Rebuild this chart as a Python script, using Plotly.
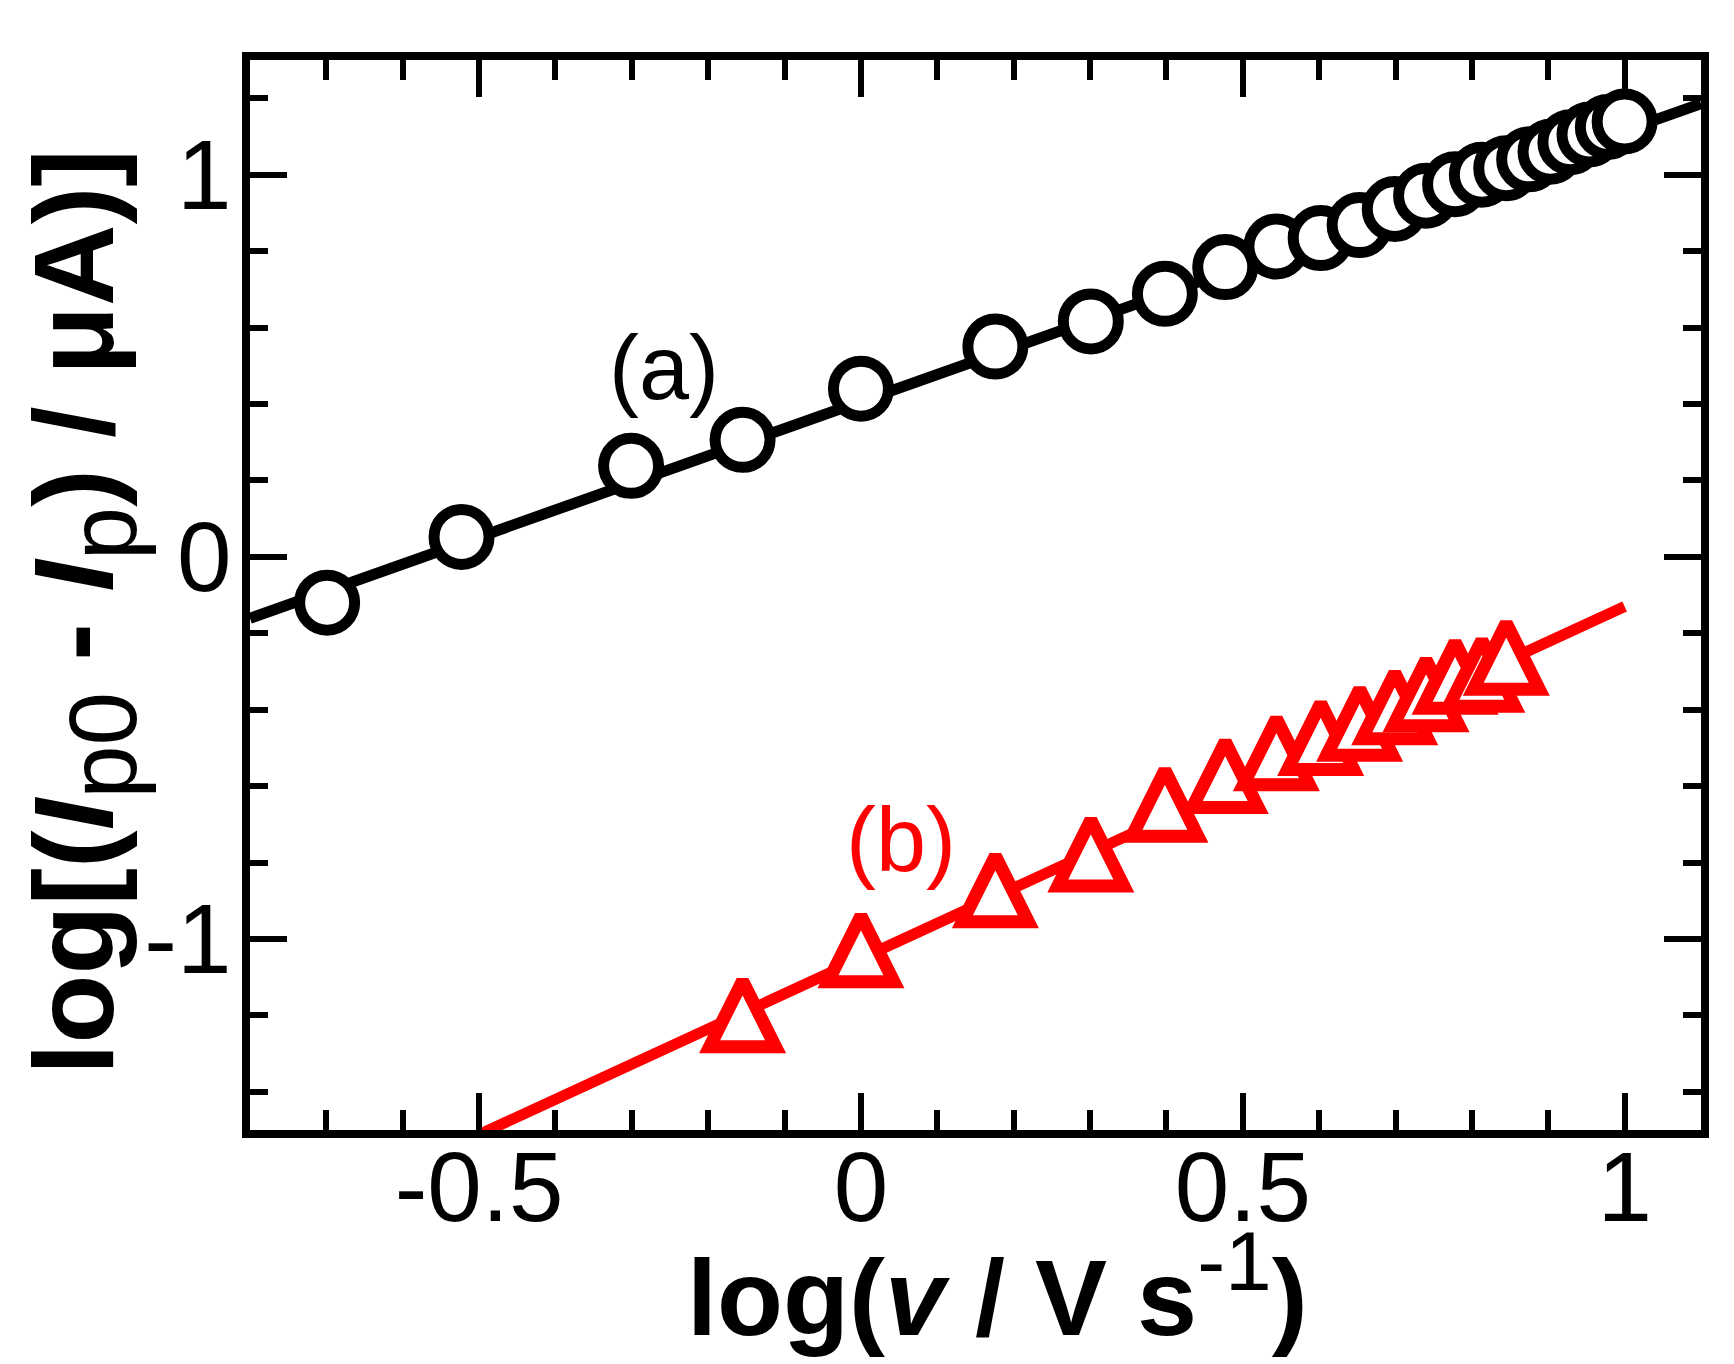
import plotly.graph_objects as go

# ---- data ----
a_x = [-0.699, -0.523, -0.301, -0.155, 0.0, 0.176, 0.301, 0.398, 0.477, 0.544, 0.602,
       0.653, 0.699, 0.740, 0.778, 0.813, 0.845, 0.875, 0.903, 0.929, 0.954, 0.978, 1.0]
a_y = [-0.120, 0.052, 0.238, 0.306, 0.440, 0.550, 0.616, 0.688, 0.758, 0.812, 0.834,
       0.868, 0.910, 0.945, 0.975, 1.000, 1.017, 1.040, 1.060, 1.085, 1.105, 1.125, 1.139]

b_x = [-0.155, 0.0, 0.176, 0.301, 0.398, 0.477, 0.544, 0.602, 0.653, 0.699, 0.740,
       0.778, 0.813, 0.845]
b_y = [-1.196, -1.026, -0.869, -0.775, -0.645, -0.570, -0.510, -0.470, -0.433, -0.390,
       -0.356, -0.310, -0.305, -0.260]

# fitted lines (end points)
fit_a_x = [-0.80, 1.10]
fit_a_y = [-0.161, 1.186]
fit_b_x = [-0.50, 1.00]
fit_b_y = [-1.512, -0.130]

x_tickvals = [-0.5, 0, 0.5, 1]
x_ticktext = ["-0.5", "0", "0.5", "1"]
y_tickvals = [-1, 0, 1]
y_ticktext = ["-1", "0", "1"]

x_title = "log(<i>v</i> / V s<sup><span style='font-weight:normal;font-size:84px'>-1</span></sup>)"
y_title = ("log[(<i>I</i><sub><span style='font-weight:normal;font-size:96px'>p0</span></sub> - "
           "<i>I</i><sub><span style='font-weight:normal;font-size:96px'>p</span></sub>) / μA)]")

FONT = "Liberation Sans, Arial, sans-serif"
RED = "#FF0000"

fig = go.Figure()
fig.add_trace(go.Scatter(x=fit_a_x, y=fit_a_y, mode="lines",
                         line=dict(color="black", width=11), showlegend=False))
fig.add_trace(go.Scatter(x=a_x, y=a_y, mode="markers", showlegend=False,
                         marker=dict(symbol="circle", size=55, color="white",
                                     line=dict(color="black", width=11))))
fig.add_trace(go.Scatter(x=fit_b_x, y=fit_b_y, mode="lines",
                         line=dict(color=RED, width=11), showlegend=False))
tri_size = 66
fig.add_trace(go.Scatter(x=b_x, y=b_y, mode="markers", showlegend=False,
                         marker=dict(symbol="arrow-down", angle=180, standoff=tri_size / 2,
                                     size=tri_size, color="white",
                                     line=dict(color=RED, width=13))))

fig.add_annotation(x=-0.258, y=0.495, text="(a)", showarrow=False,
                   font=dict(family=FONT, size=90, color="black"))
fig.add_annotation(x=0.052, y=-0.742, text="(b)", showarrow=False,
                   font=dict(family=FONT, size=90, color=RED))
# axis titles, placed as in the reference
fig.add_annotation(xref="paper", yref="paper", x=0.515, y=-0.215,
                   xanchor="center", yanchor="bottom", showarrow=False, text=x_title,
                   font=dict(family=FONT, size=108, color="black", weight="bold"))
fig.add_annotation(xref="paper", yref="paper", x=-0.1662, y=0.484, textangle=-90,
                   xanchor="left", yanchor="middle", showarrow=False, text=y_title,
                   font=dict(family=FONT, size=113, color="black", weight="bold"))

axis_common = dict(
    showline=True, linecolor="black", linewidth=8, mirror="ticks",
    ticks="inside", tickcolor="black", tickwidth=6, ticklen=37,
    showgrid=False, zeroline=False,
    tickfont=dict(family=FONT, size=98, color="black"),
)

fig.update_xaxes(
    range=[-0.8, 1.1], tickmode="array", tickvals=x_tickvals, ticktext=x_ticktext,
    ticklabelstandoff=-35,
    minor=dict(dtick=0.1, tick0=0, ticks="inside", ticklen=20, tickwidth=6, tickcolor="black"),
    **axis_common,
)
fig.update_yaxes(
    range=[-1.5, 1.3], tickmode="array", tickvals=y_tickvals, ticktext=y_ticktext,
    ticklabelstandoff=-9,
    minor=dict(dtick=0.2, tick0=0, ticks="inside", ticklen=18, tickwidth=6, tickcolor="black"),
    **axis_common,
)

fig.update_layout(
    width=1734, height=1364,
    margin=dict(l=242, r=41, t=52, b=242),
    paper_bgcolor="white", plot_bgcolor="white",
    font=dict(family=FONT),
)

fig.write_html("out.html")
